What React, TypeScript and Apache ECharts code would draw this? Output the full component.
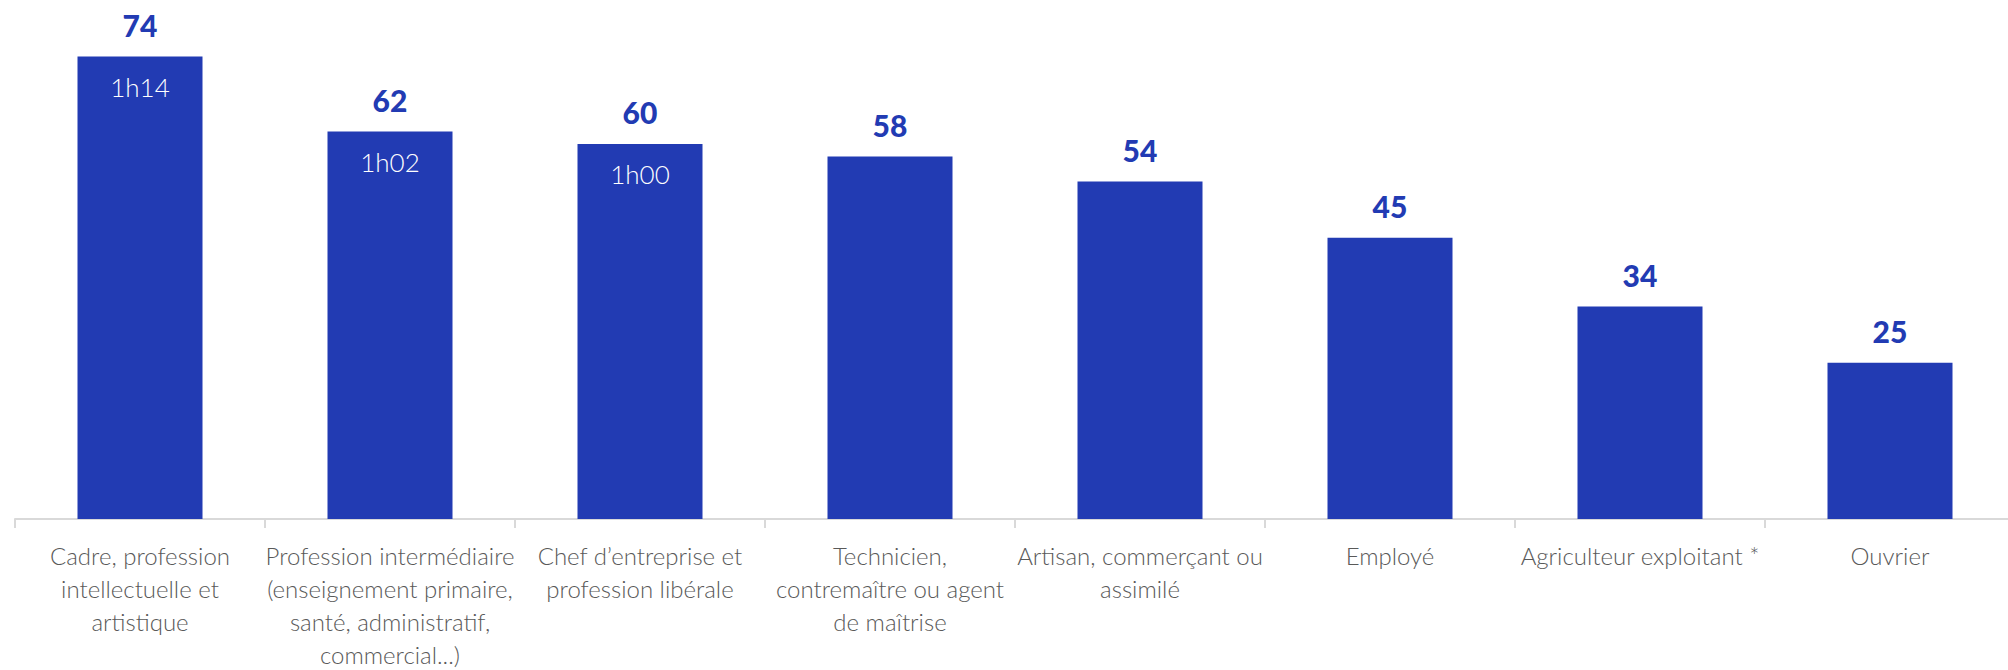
import React, { useEffect, useRef } from "react";
import * as echarts from "echarts";

const categories: string[] = [
  "Cadre, profession\nintellectuelle et\nartistique",
  "Profession intermédiaire\n(enseignement primaire,\nsanté, administratif,\ncommercial...)",
  "Chef d’entreprise et\nprofession libérale",
  "Technicien,\ncontremaître ou agent\nde maîtrise",
  "Artisan, commerçant ou\nassimilé",
  "Employé",
  "Agriculteur exploitant *",
  "Ouvrier",
];

const minutes: number[] = [74, 62, 60, 58, 54, 45, 34, 25];
const durations: string[] = ["1h14", "1h02", "1h00", "", "", "", "", ""];

const BLUE = "#223bb3";

export default function App() {
  const ref = useRef<HTMLDivElement>(null);
  useEffect(() => {
    document.body.style.margin = "0";
    if (!ref.current) return;
    const chart = echarts.init(ref.current, undefined, { renderer: "svg" });
    chart.setOption({
      animation: false,
      backgroundColor: "#ffffff",
      grid: {
        left: 15,
        top: 19,
        width: 2000,
        bottom: 151,
        containLabel: false,
        outerBoundsMode: "none",
      },
      xAxis: {
        type: "category",
        data: categories,
        axisLine: { show: true, lineStyle: { color: "#d9d9d9", width: 2 } },
        axisTick: { show: true, length: 9, lineStyle: { color: "#d9d9d9", width: 2 } },
        axisLabel: {
          interval: 0,
          margin: 20,
          color: "#595959",
          fontFamily: "Lato",
          fontWeight: 300,
          fontSize: 24,
          lineHeight: 33,
        },
      },
      yAxis: {
        type: "value",
        min: 0,
        max: 80,
        show: false,
        splitLine: { show: false },
      },
      series: [
        {
          type: "bar",
          data: minutes,
          barWidth: 125,
          itemStyle: { color: BLUE },
          label: {
            show: true,
            position: "top",
            distance: 17,
            color: BLUE,
            fontFamily: "Lato",
            fontWeight: 900,
            fontSize: 30,
          },
        },
        {
          type: "bar",
          data: minutes,
          barWidth: 125,
          barGap: "-100%",
          itemStyle: { color: "transparent" },
          silent: true,
          label: {
            show: true,
            position: "insideTop",
            distance: 17,
            color: "#ffffff",
            fontFamily: "Lato",
            fontWeight: 300,
            fontSize: 26,
            formatter: (p: any) => durations[p.dataIndex],
          },
        },
      ],
    });
    return () => chart.dispose();
  }, []);
  return <div ref={ref} style={{ width: 2008, height: 670 }} />;
}
